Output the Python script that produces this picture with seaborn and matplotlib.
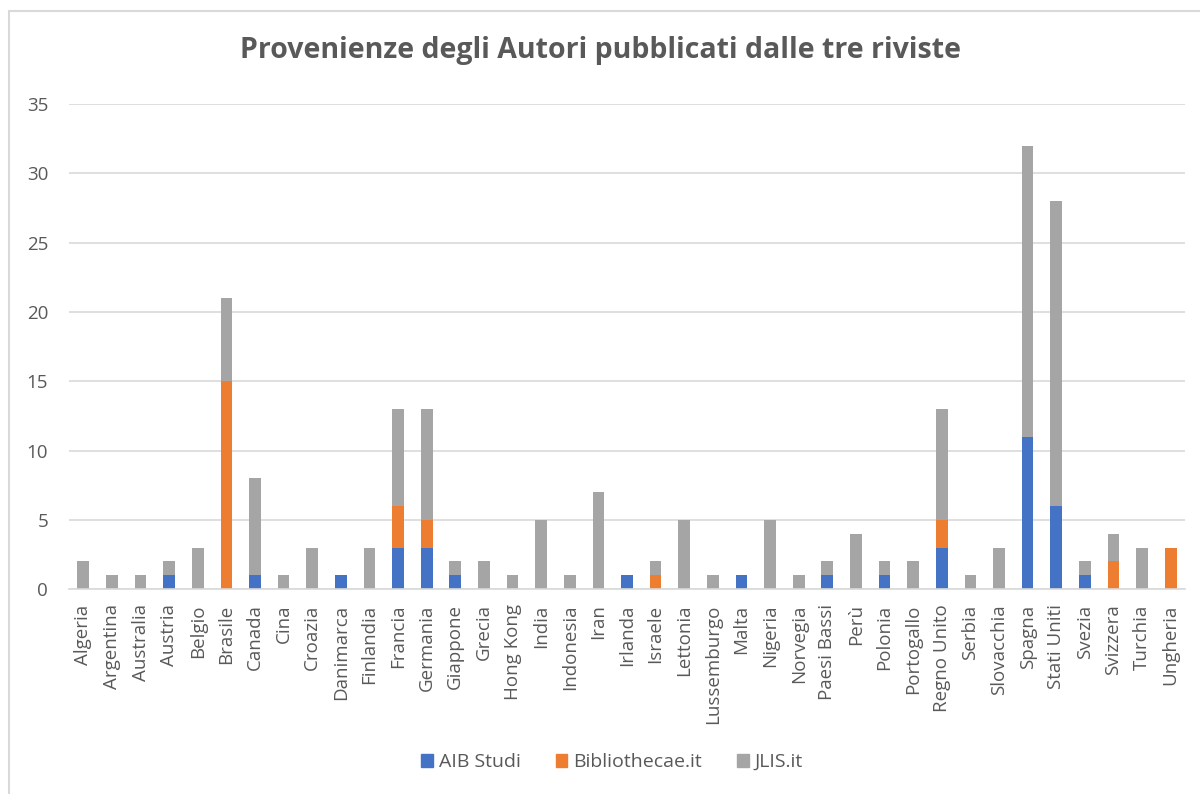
# stacked bar chart: provenienze degli autori per rivista
import numpy as np
import seaborn as sns
import matplotlib.pyplot as plt
from matplotlib.patches import Rectangle, Patch

countries = ['Algeria', 'Argentina', 'Australia', 'Austria', 'Belgio', 'Brasile', 'Canada',
             'Cina', 'Croazia', 'Danimarca', 'Finlandia', 'Francia', 'Germania', 'Giappone',
             'Grecia', 'Hong Kong', 'India', 'Indonesia', 'Iran', 'Irlanda', 'Israele',
             'Lettonia', 'Lussemburgo', 'Malta', 'Nigeria', 'Norvegia', 'Paesi Bassi', 'Perù',
             'Polonia', 'Portogallo', 'Regno Unito', 'Serbia', 'Slovacchia', 'Spagna',
             'Stati Uniti', 'Svezia', 'Svizzera', 'Turchia', 'Ungheria']
aib = [0, 0, 0, 1, 0, 0, 1, 0, 0, 1, 0, 3, 3, 1, 0, 0, 0, 0, 0, 1, 0,
       0, 0, 1, 0, 0, 1, 0, 1, 0, 3, 0, 0, 11, 6, 1, 0, 0, 0]
biblio = [0, 0, 0, 0, 0, 15, 0, 0, 0, 0, 0, 3, 2, 0, 0, 0, 0, 0, 0, 0, 1,
          0, 0, 0, 0, 0, 0, 0, 0, 0, 2, 0, 0, 0, 0, 0, 2, 0, 3]
jlis = [2, 1, 1, 1, 3, 6, 7, 1, 3, 0, 3, 7, 8, 1, 2, 1, 5, 1, 7, 0, 1,
        5, 1, 0, 5, 1, 1, 4, 1, 2, 8, 1, 3, 21, 22, 1, 2, 3, 0]
series_names = ['AIB Studi', 'Bibliothecae.it', 'JLIS.it']
colors = ['#4472C4', '#ED7D31', '#A5A5A5']

sns.set_style('white')
plt.rcParams['font.family'] = ['Open Sans', 'DejaVu Sans']
text_color = '#595959'

fig = plt.figure(figsize=(12, 7.94), dpi=100)
ax = fig.add_axes([0.0575, 0.258, 0.930, 0.611])

# stack the three series
bottom = np.zeros(len(countries))
for name, vals, col in zip(series_names, [aib, biblio, jlis], colors):
    sns.barplot(x=countries, y=vals, bottom=bottom, color=col, width=0.41,
                ax=ax, linewidth=0, saturation=1)
    bottom = bottom + np.array(vals)

ax.set_ylim(0, 35)
ax.set_yticks(range(0, 36, 5))
ax.set_xlim(-0.5, len(countries) - 0.5)
ax.yaxis.grid(True, color='#D9D9D9', linewidth=1.2)
ax.set_axisbelow(True)
for s in ['top', 'right', 'left']:
    ax.spines[s].set_visible(False)
ax.spines['bottom'].set_color('#D9D9D9')
ax.spines['bottom'].set_linewidth(1.2)
ax.tick_params(axis='x', labelrotation=90, labelsize=13.5, colors=text_color, length=0, pad=11)
ax.tick_params(axis='y', labelsize=13.5, colors=text_color, length=0, pad=15)

fig.suptitle('Provenienze degli Autori pubblicati dalle tre riviste', y=0.955,
             fontsize=20.5, fontweight='bold', color=text_color)

handles = [Patch(color=c, label=n) for n, c in zip(series_names, colors)]
fig.legend(handles=handles, loc='center', bbox_to_anchor=(0.51, 0.04), ncol=3,
           frameon=False, fontsize=14, labelcolor=text_color, handlelength=0.6,
           handleheight=0.6, handletextpad=0.3, columnspacing=1.8)

# chart frame (right and bottom edges fall outside the image)
fig.patches.append(Rectangle((9 / 1200, -0.05), 1.2, 1 - 11 / 794 + 0.05,
                             transform=fig.transFigure, fill=False,
                             edgecolor='#D9D9D9', linewidth=1.5))

fig.savefig('out.png', dpi=100)
